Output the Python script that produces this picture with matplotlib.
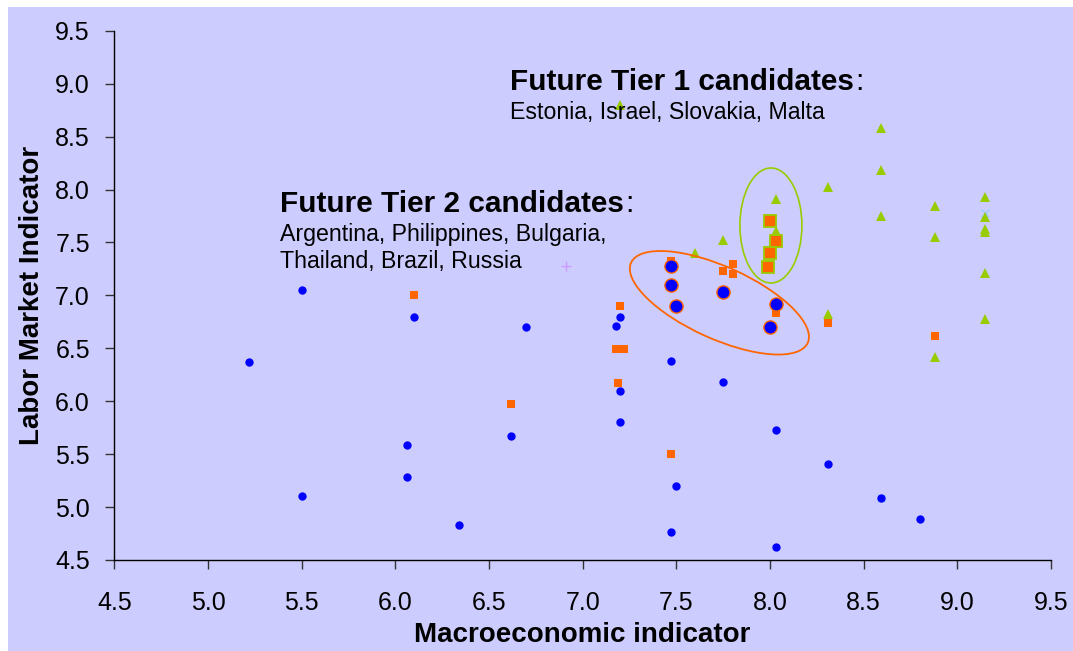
import numpy as np
import matplotlib
matplotlib.use("Agg")
import matplotlib.pyplot as plt
from matplotlib.patches import Ellipse, Rectangle
from matplotlib.transforms import ScaledTranslation
from matplotlib.ticker import FormatStrFormatter

plt.rcParams['font.family'] = ['Liberation Sans', 'DejaVu Sans']

# blue circles
blue_x = [5.22, 5.50, 5.50, 6.06, 6.06, 6.10, 6.34, 6.62, 6.70, 7.18, 7.20,
          7.20, 7.20, 7.47, 7.47, 7.50, 7.75, 8.03, 8.03, 8.31, 8.59, 8.80]
blue_y = [6.37, 7.05, 5.10, 5.59, 5.28, 6.80, 4.83, 5.67, 6.70, 6.71, 6.80,
          6.10, 5.80, 6.38, 4.76, 5.20, 6.18, 5.73, 4.62, 5.41, 5.09, 4.89]

# orange squares
orange_x = [6.10, 6.62, 7.19, 7.20, 7.18, 7.22, 7.47, 7.47, 7.75, 7.80, 7.80,
            8.03, 8.31, 8.88]
orange_y = [7.00, 5.97, 6.17, 6.90, 6.49, 6.49, 5.50, 7.32, 7.23, 7.30, 7.20,
            6.83, 6.74, 6.62]

# green triangles
green_x = [7.20, 7.60, 7.75, 8.03, 8.03, 8.31, 8.31, 8.59, 8.59, 8.59, 8.88,
           8.88, 8.88, 9.15, 9.15, 9.15, 9.15, 9.15, 9.15]
green_y = [8.80, 7.40, 7.52, 7.91, 7.61, 8.02, 6.82, 8.58, 8.18, 7.75, 7.84,
           7.55, 6.42, 7.93, 7.74, 7.63, 7.60, 7.21, 6.78]

# single points of the remaining series
plus_x = [6.91]
plus_y = [7.28]
cross_x = [9.15, 8.59]
cross_y = [7.78, 5.09]

# Argentina, Philippines, Bulgaria, Thailand, Brazil, Russia
tier2_x = [7.47, 7.47, 7.50, 7.75, 8.03, 8.00]
tier2_y = [7.28, 7.10, 6.90, 7.03, 6.92, 6.70]

# Estonia, Israel, Slovakia, Malta
tier1_x = [8.00, 8.03, 8.00, 7.99]
tier1_y = [7.70, 7.51, 7.40, 7.27]

ticks = np.arange(4.5, 9.51, 0.5)

fig = plt.figure(figsize=(10.73, 6.51), dpi=100, facecolor='white')
fig.patches.append(Rectangle((8 / 1073, 0), 1, 1 - 7 / 651, transform=fig.transFigure,
                             facecolor='#CCCCFF', edgecolor='none', zorder=-10))
ax = fig.add_axes([0.1065, 0.1398, 0.873, 0.813])
ax.set_facecolor('none')

ax.plot(blue_x, blue_y, 'o', color='#0000FF', ms=6, mew=0, zorder=3)
ax.plot(orange_x, orange_y, 's', color='#FF6600', ms=6, mew=0, zorder=3)
ax.plot(cross_x, cross_y, 'x', color='#99CCFF', ms=6, mew=1, zorder=2)
ax.plot(plus_x, plus_y, '+', color='#CC99FF', ms=7, mew=1, zorder=3)
ax.plot(tier1_x, tier1_y, 's', mfc='#FF6600', mec='#99CC00', ms=8.5, mew=1.3, zorder=4)
ax.plot(green_x, green_y, '^', color='#99CC00', ms=6.5, mew=0, zorder=5)
ax.plot(tier2_x, tier2_y, 'o', mfc='#0000FF', mec='#FF6600', ms=9.5, mew=1, zorder=5)

# outline around each group of candidates (size given in inches)
ring2 = Ellipse((0, 0), 1.94, 0.72, angle=-24.4, fill=False, ec='#FF6600', lw=1.3,
                transform=fig.dpi_scale_trans + ScaledTranslation(7.73, 6.93, ax.transData),
                zorder=6)
ring1 = Ellipse((0, 0), 0.62, 1.15, angle=0, fill=False, ec='#99CC00', lw=1.2,
                transform=fig.dpi_scale_trans + ScaledTranslation(8.005, 7.66, ax.transData),
                zorder=6)
ax.add_artist(ring2)
ax.add_artist(ring1)

ax.set_xlim(4.5, 9.5)
ax.set_ylim(4.5, 9.5)
ax.set_xticks(ticks)
ax.set_yticks(ticks)
ax.xaxis.set_major_formatter(FormatStrFormatter('%.1f'))
ax.yaxis.set_major_formatter(FormatStrFormatter('%.1f'))
ax.tick_params(direction='out', length=6.5, width=1, labelsize=18, color='#333333')
ax.tick_params(axis='x', pad=16)
ax.tick_params(axis='y', pad=11)
for side in ['top', 'right']:
    ax.spines[side].set_visible(False)
for side in ['left', 'bottom']:
    ax.spines[side].set_linewidth(1)

ax.set_xlabel('Macroeconomic indicator', fontsize=20, fontweight='bold', labelpad=5)
ax.set_ylabel('Labor Market Indicator', fontsize=20, fontweight='bold', labelpad=7)


def heading(x, y, title, lines):
    t = ax.text(x, y, title, fontsize=21.4, fontweight='bold', va='baseline', zorder=7)
    ax.annotate(':', xy=(1, 0), xycoords=t, xytext=(1, 0), textcoords='offset points',
                fontsize=21.4, va='bottom', zorder=7)
    for i, line in enumerate(lines):
        ax.text(x, y - 0.27 - 0.255 * i, line, fontsize=16.7, va='baseline', zorder=7)


heading(6.612, 8.94, 'Future Tier 1 candidates', ['Estonia, Israel, Slovakia, Malta'])
heading(5.384, 7.787, 'Future Tier 2 candidates',
        ['Argentina, Philippines, Bulgaria,', 'Thailand, Brazil, Russia'])

fig.savefig('out.png', dpi=100, facecolor=fig.get_facecolor())
